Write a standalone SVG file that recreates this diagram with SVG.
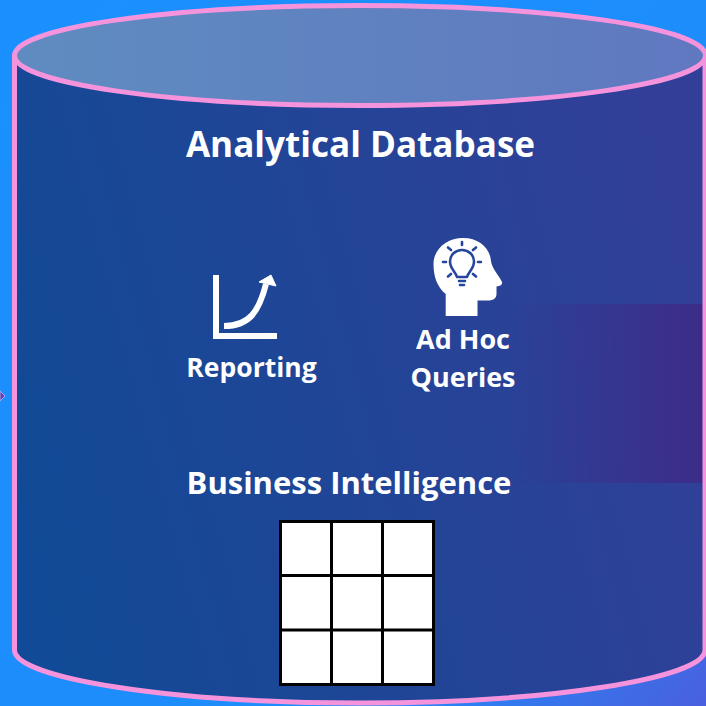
<svg xmlns="http://www.w3.org/2000/svg" width="706" height="706" viewBox="0 0 706 706">
<style>
text{font-family:"Open Sans","Liberation Sans",sans-serif;font-weight:700;fill:#fff;text-anchor:middle}
.rim{stroke:#f594dc;stroke-width:5}
.bulb{fill:none;stroke:#25469c;stroke-width:2.6;stroke-linecap:round;stroke-linejoin:round}
</style>
<defs>
<linearGradient id="bg" gradientUnits="userSpaceOnUse" x1="0" y1="0" x2="706" y2="706"><stop offset="0" stop-color="#1a90ff"/><stop offset="0.75" stop-color="#1f8cfb"/><stop offset="1" stop-color="#4a60de"/></linearGradient>
<linearGradient id="body" gradientUnits="userSpaceOnUse" x1="14" y1="480" x2="705" y2="300"><stop offset="0" stop-color="#114a96"/><stop offset="1" stop-color="#323f98"/></linearGradient>
<linearGradient id="top" gradientUnits="userSpaceOnUse" x1="14" y1="55" x2="705" y2="55"><stop offset="0" stop-color="#5f8cc0"/><stop offset="1" stop-color="#6078c0"/></linearGradient>
<linearGradient id="band" gradientUnits="userSpaceOnUse" x1="505" y1="0" x2="704" y2="0"><stop offset="0" stop-color="#3c2e8a" stop-opacity="0"/><stop offset="1" stop-color="#3c2c88"/></linearGradient>
</defs>
<rect id="background" width="706" height="706" fill="url(#bg)"/>
<path id="marker" d="M0 391L5 396L0 401Z" fill="#6a3cb0" stroke="#a9a6f0" stroke-width="1"/>
<g id="cylinder">
<path d="M14.500 55V650C14.500 678 169 703 360 703S705 678 705 650V55Z" fill="url(#body)"/>
<rect x="505" y="304" width="199" height="179" fill="url(#band)"/>
<path class="rim" d="M14.500 55V650C14.500 678 169 703 360 703S705 678 705 650V55" fill="none"/>
<ellipse class="rim" cx="360" cy="55.500" rx="345.500" ry="50" fill="url(#top)"/>
</g>
<g id="title"><text x="360.500" y="156.500" font-size="35.100">Analytical Database</text></g>
<g id="reporting">
<path d="M213 275H219V333H277V339H213Z" fill="#fff"/>
<path d="M224 326C250 326 259 311 266 284" fill="none" stroke="#fff" stroke-width="6"/>
<path d="M259 282L271 275L276 286Z" fill="#fff" stroke="#fff" stroke-width="1" stroke-linejoin="round"/>
<text x="251.500" y="377" font-size="26.500">Reporting</text>
</g>
<g id="adhoc">
<path d="M445.700 316V294C437 287 433.500 276 433.500 264C433.500 249 447 238 463 238C479 238 490 248 491 261C491.500 268 500 277 502 282C502.500 285 500 286 496.500 286.500V294C496.500 299 492 300.500 488 300.500H477.500V316Z" fill="#fff"/>
<g class="bulb">
<path d="M457 277C456 272 450 269 450 261.500C450 255 455.500 250 462 250C468.500 250 474 255 474 261.500C474 269 468 272 467 277Z"/>
<path d="M459 281H465M460 285H464"/>
<path d="M462 242V245M448 247.500L451 250M476 247.500L473 250M443 262H446M478 262H481M448 276.500L451 274M476 276.500L473 274"/>
</g>
<text x="463" y="349" font-size="27">Ad Hoc</text>
<text x="463" y="387" font-size="27">Queries</text>
</g>
<g id="business-intelligence"><text x="349" y="494" font-size="31">Business Intelligence</text></g>
<g id="table">
<rect x="280.500" y="521.500" width="153" height="163" fill="#fff" stroke="#000" stroke-width="3"/>
<path d="M331.500 521.500V684.500M382.500 521.500V684.500M280.500 575.500H433.500M280.500 630H433.500" fill="none" stroke="#000" stroke-width="3"/>
</g>
</svg>
